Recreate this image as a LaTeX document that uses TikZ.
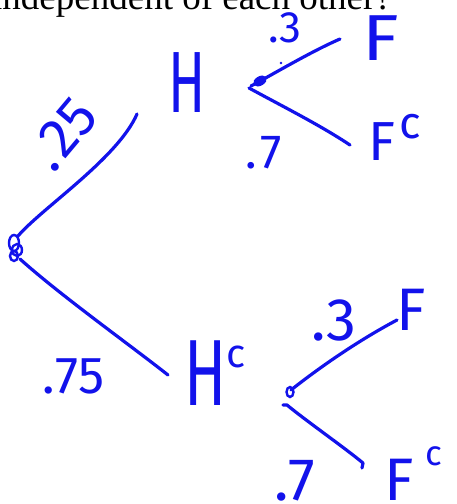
\documentclass[tikz,border=0pt]{standalone}
\usepackage{fontspec}
\usepackage{graphicx}
\setmainfont{Liberation Serif}
\newfontfamily\hand{Fira Sans}
\newcommand\hs[1]{\hand\fontsize{#1}{#1}\selectfont}
\definecolor{ink}{RGB}{18,18,235}
\begin{document}
\begin{tikzpicture}[x=1pt,y=-1pt,
  stroke/.style={draw=ink,line width=3.2pt,line cap=round,line join=round},
  loopy/.style={draw=ink,line width=2.4pt},
  lbl/.style={text=ink,inner sep=0pt,anchor=base west},
  ]
\useasboundingbox (0,0) rectangle (456,504);
\clip (0,0) rectangle (456,504);
% cropped question text
\node[anchor=base west,inner sep=0pt,font=\fontsize{37}{42}\selectfont] (q) at (-8,9) {independent of each other?};
% tree points
\coordinate (root) at (15,248);
\coordinate (h) at (260,81);
\coordinate (hc) at (290,392);
\draw[loopy] (14,243) ellipse[x radius=5, y radius=8];
\draw[loopy] (17,250) ellipse[x radius=5, y radius=6];
\draw[loopy] (14,256) ellipse[x radius=4, y radius=5];
\draw[loopy,fill=ink] (h) ellipse[x radius=6, y radius=3.5, rotate=30];
\draw[loopy] (hc) ellipse[x radius=3.5, y radius=5];
\fill[ink] (281,63) circle (1.3);
% branch ends
\coordinate (r1) at (18,236);
\coordinate (e1) at (137,114);
\coordinate (r2) at (20,259);
\coordinate (e2) at (168,375);
\coordinate (h1) at (251,86);
\coordinate (f1) at (340,39);
\coordinate (h2) at (249,88);
\coordinate (f2) at (350,145);
\coordinate (c1) at (291,390);
\coordinate (f3) at (397,320);
\coordinate (c2) at (283,405);
\coordinate (f4) at (363,463);
\draw[stroke] (r1) .. controls (42,208) and (118,158) .. (e1);
\draw[stroke] (r2) .. controls (60,295) and (130,345) .. (e2);
\draw[stroke] (h1) .. controls (270,76) and (310,52) .. (f1);
\draw[stroke] (h2) .. controls (280,105) and (320,125) .. (f2);
\draw[stroke] (c1) .. controls (310,375) and (350,345) .. (f3);
\draw[stroke] (c2) -- (287,405) .. controls (305,420) and (345,448) .. (f4) -- (362,468);
% labels
\node[text=ink,inner sep=0pt,rotate=50,font=\hs{56}] (p1) at (63,134) {.\kern4pt 25};
\node[lbl,font=\hs{87}] (H) at (168,112) {\scalebox{0.63}[1]{H}};
\node[lbl,font=\hs{44}] (p2) at (268,42) {.3};
\node[lbl,font=\hs{65}] (F1) at (362,60) {\scalebox{1.15}[1]{F}};
\node[lbl,font=\hs{48}] (p3) at (245,168) {.\kern4pt 7};
\node[lbl,font=\hs{55}] (F2) at (368,160) {F\kern4pt\raisebox{22pt}{\hs{45}c}};
\node[lbl,font=\hs{52}] (p4) at (42,393) {.\kern1pt 75};
\node[lbl,font=\hs{94}] (Hc) at (184,405) {\scalebox{0.66}[1]{H}\raisebox{38pt}{\hs{40}c}};
\node[lbl,font=\hs{60}] (p5) at (311,340) {.3};
\node[lbl,font=\hs{60}] (F3) at (396,330) {F};
\node[lbl,font=\hs{60}] (p6) at (274,500) {.7};
\node[lbl,font=\hs{60}] (F4) at (384,500) {F\kern12pt\raisebox{35pt}{\hs{35}c}};
\end{tikzpicture}
\end{document}
